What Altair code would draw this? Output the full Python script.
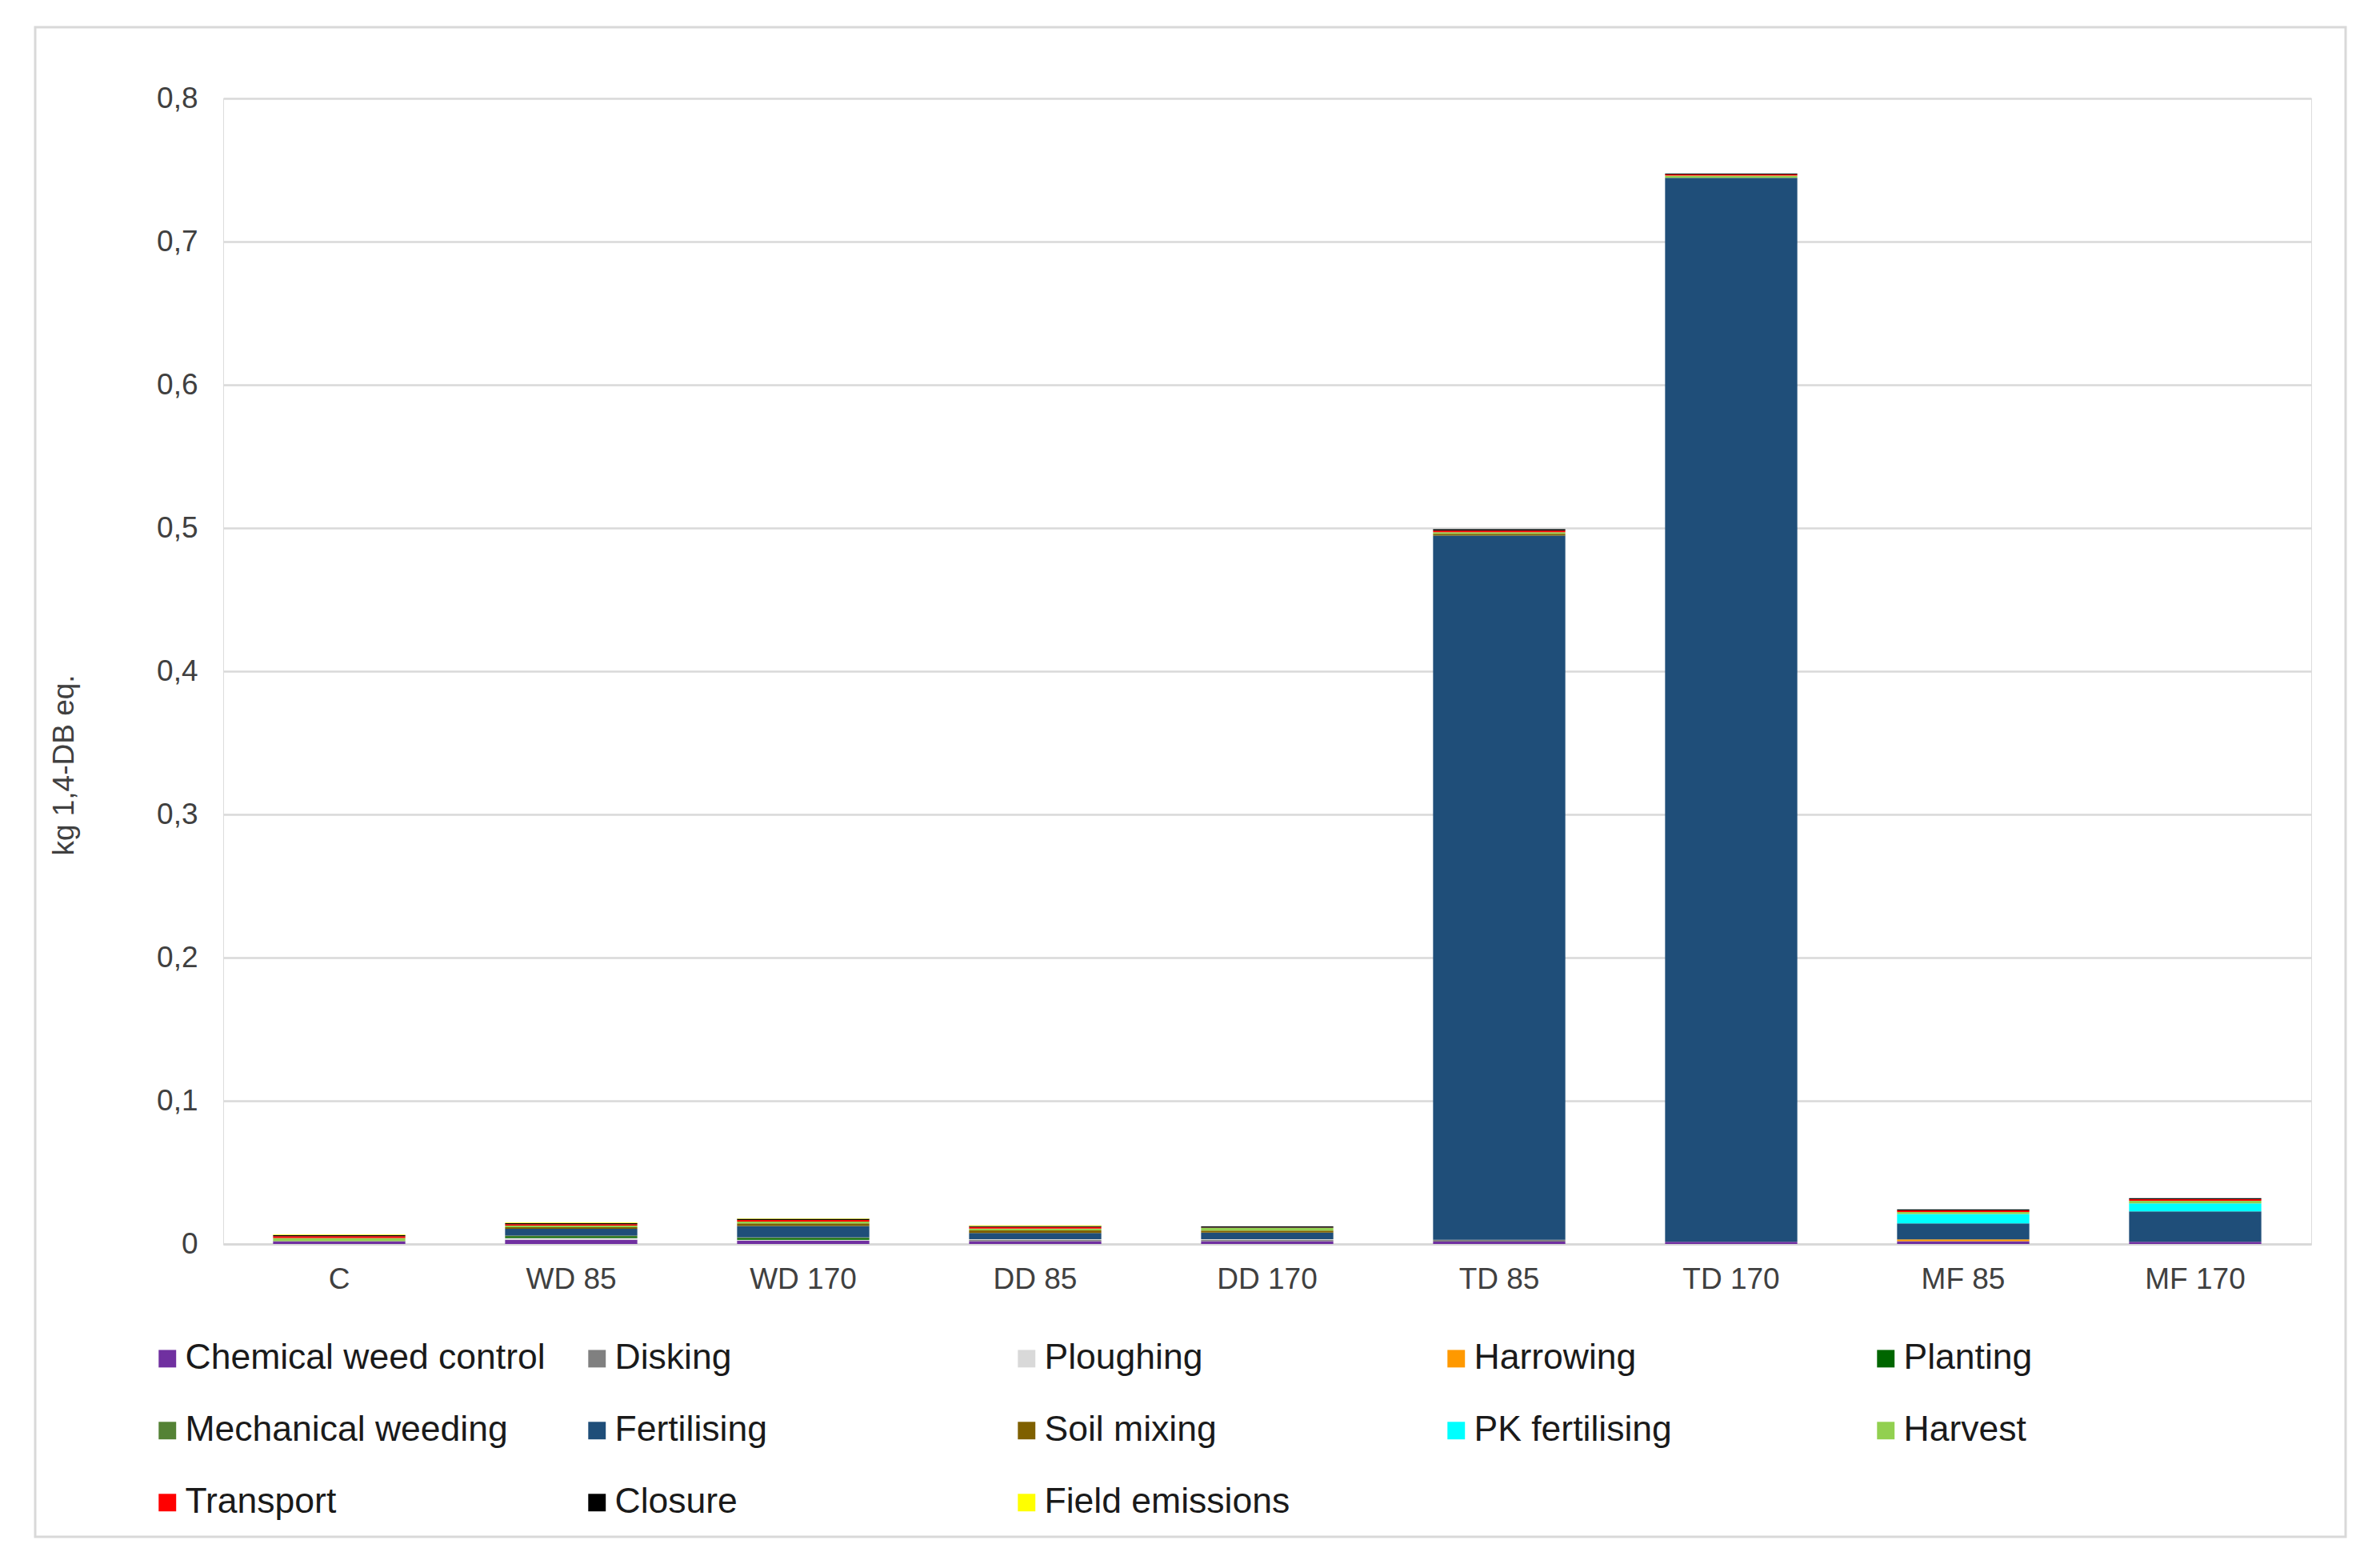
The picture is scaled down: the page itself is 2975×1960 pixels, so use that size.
import altair as alt
import pandas as pd

categories = ["C", "WD 85", "WD 170", "DD 85", "DD 170", "TD 85", "TD 170", "MF 85", "MF 170"]

series = ["Chemical weed control", "Disking", "Ploughing", "Harrowing", "Planting",
          "Mechanical weeding", "Fertilising", "Soil mixing", "PK fertilising", "Harvest",
          "Transport", "Closure", "Field emissions"]

colors = ["#7030A0", "#808080", "#D9D9D9", "#FF9900", "#006600",
          "#548235", "#1F4E79", "#7F6000", "#00FFFF", "#92D050",
          "#FF0000", "#000000", "#FFFF00"]

chemical_weed_control = [0.0020, 0.0030, 0.0022, 0.0020, 0.0020, 0.0017, 0.0015, 0.0019, 0.0015]
disking = [0, 0, 0, 0.0008, 0.0008, 0.0012, 0, 0, 0]
ploughing = [0, 0.0012, 0.0008, 0.0006, 0.0005, 0, 0, 0, 0]
harrowing = [0, 0, 0, 0, 0, 0, 0, 0.0013, 0]
planting = [0, 0.0008, 0.0010, 0, 0, 0, 0, 0, 0]
mechanical_weeding = [0, 0.0008, 0.0006, 0, 0, 0, 0, 0, 0]
fertilising = [0, 0.0048, 0.0080, 0.0043, 0.0047, 0.4918, 0.7431, 0.0112, 0.0212]
soil_mixing = [0, 0.0012, 0.0018, 0.0018, 0.0013, 0.0013, 0, 0, 0]
pk_fertilising = [0, 0, 0, 0, 0, 0, 0, 0.0065, 0.0056]
harvest = [0.0022, 0.0010, 0.0012, 0.0013, 0.0020, 0.0011, 0.0015, 0.0015, 0.0019]
transport = [0.0013, 0.0010, 0.0012, 0.0011, 0.0002, 0.0011, 0.0008, 0.0011, 0.0011]
closure = [0.0007, 0.0007, 0.0008, 0.0007, 0.0008, 0.0009, 0.0006, 0.0007, 0.0007]
field_emissions = [0.0004, 0.0004, 0.0003, 0.0004, 0, 0, 0, 0, 0]

values = [chemical_weed_control, disking, ploughing, harrowing, planting,
          mechanical_weeding, fertilising, soil_mixing, pk_fertilising, harvest,
          transport, closure, field_emissions]

y_ticks = [0, 0.1, 0.2, 0.3, 0.4, 0.5, 0.6, 0.7, 0.8]

rows = []
for si, (name, vals) in enumerate(zip(series, values)):
    for cat, v in zip(categories, vals):
        rows.append({"category": cat, "series": name, "value": v, "idx": si})
df = pd.DataFrame(rows)

FONT = "Liberation Sans"

bars = alt.Chart(df).mark_bar().encode(
    x=alt.X("category:N", sort=categories, title=None,
            scale=alt.Scale(paddingInner=0.43, paddingOuter=0.215),
            axis=alt.Axis(labelAngle=0, labelFontSize=37, labelColor="#404040",
                          labelFont=FONT, labelPadding=26, ticks=False,
                          domainColor="#D9D9D9", domainWidth=3, grid=False)),
    y=alt.Y("value:Q", stack="zero", title="kg 1,4-DB eq.",
            scale=alt.Scale(domain=[0, 0.8], nice=False),
            axis=alt.Axis(values=y_ticks,
                          labelExpr="datum.value == 0 ? '0' : replace(format(datum.value, '.1f'), '.', ',')",
                          labelFontSize=37, labelColor="#404040", labelFont=FONT,
                          labelPadding=32, ticks=False, domain=False,
                          gridColor="#D9D9D9", gridWidth=2.5,
                          titleFont=FONT, titleFontSize=37, titleFontWeight="normal",
                          titleColor="#404040", titleAngle=270, titleX=-199, titleY=833,
                          titleAlign="center", titleBaseline="middle")),
    color=alt.Color("series:N", sort=series,
                    scale=alt.Scale(domain=series, range=colors),
                    legend=alt.Legend(title=None, orient="none", legendX=-92, legendY=1553,
                                      direction="horizontal",
                                      columns=5, gridAlign="all", columnPadding=42,
                                      rowPadding=45, labelFontSize=44.5, labelFont=FONT,
                                      labelColor="#1a1a1a", symbolType="square",
                                      symbolSize=480, symbolStrokeWidth=0,
                                      labelOffset=0, labelLimit=0)),
    order=alt.Order("idx:Q", sort="ascending"),
)

frame = alt.Chart(alt.Data(values=[{"a": 1}])).mark_rect(
    fill=None, stroke="#D9D9D9", strokeWidth=3, clip=False
).encode(
    x=alt.value(-235), x2=alt.value(2653), y=alt.value(-89), y2=alt.value(1798)
)

chart = alt.layer(frame, bars).properties(
    width=2610, height=1432,
    autosize=alt.AutoSizeParams(type="none"),
    padding={"left": 271, "top": 115, "right": 78, "bottom": 397},
).configure_view(stroke=None).configure(background="white")

chart.save("out.html", embed_options={"renderer": "svg", "actions": False})
